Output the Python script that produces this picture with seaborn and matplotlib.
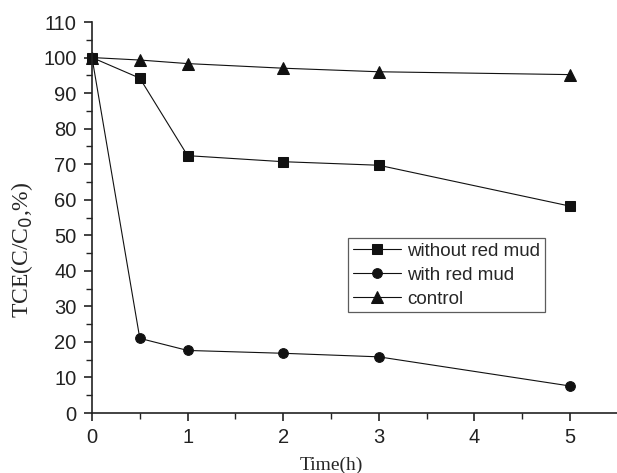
import numpy as np
import pandas as pd
import matplotlib
matplotlib.use("Agg")
import matplotlib.pyplot as plt
import seaborn as sns
from matplotlib.ticker import MultipleLocator

time_h = [0, 0.5, 1, 2, 3, 5]
without_red_mud = [100, 94.2, 72.4, 70.7, 69.7, 58.2]
with_red_mud = [100, 21.0, 17.6, 16.8, 15.8, 7.6]
control = [100, 99.3, 98.3, 97.0, 96.0, 95.2]
series_names = ["without red mud", "with red mud", "control"]

df = pd.DataFrame({
    "Time": time_h * 3,
    "TCE": without_red_mud + with_red_mud + control,
    "series": sum([[n] * len(time_h) for n in series_names], []),
})

sns.set_style("ticks")
plt.rcParams["font.family"] = ["Liberation Sans", "DejaVu Sans"]

fig = plt.figure(figsize=(6.17, 4.73), dpi=100)
ax = fig.add_axes([92 / 617, 60 / 473, 525 / 617, (413 - 22) / 473])

sns.lineplot(
    data=df, x="Time", y="TCE", hue="series", style="series",
    hue_order=series_names, style_order=series_names,
    palette=["#111111"] * 3, markers={"without red mud": "s", "with red mud": "o", "control": "^"},
    dashes=False, linewidth=0.8, markersize=7, markeredgecolor="#111111",
    ax=ax, legend=True,
)
for line in ax.lines:
    line.set_clip_on(False)
    if line.get_marker() == "s":
        line.set_markersize(6.5)
    elif line.get_marker() == "^":
        line.set_markersize(8)

ax.set_xlim(0, 525 / 95.6)
ax.set_ylim(0, 110)
ax.xaxis.set_major_locator(MultipleLocator(1))
ax.xaxis.set_minor_locator(MultipleLocator(0.5))
ax.yaxis.set_major_locator(MultipleLocator(10))
ax.yaxis.set_minor_locator(MultipleLocator(5))
ax.tick_params(which="major", direction="out", length=6, width=1.2, labelsize=14.5, colors="#222222", pad=5)
ax.tick_params(which="minor", direction="out", length=4, width=1.0, colors="#222222")
for s in ["top", "right"]:
    ax.spines[s].set_visible(False)
for s in ["left", "bottom"]:
    ax.spines[s].set_linewidth(1.2)
    ax.spines[s].set_color("#222222")

ax.set_xlabel("Time(h)", family="Liberation Serif", fontsize=14)
ax.set_ylabel("TCE(C/C$_0$,%)", family="Liberation Serif", fontsize=17)
ax.xaxis.set_label_coords((331 - 92) / 525, -(465 - 413) / 391)
ax.xaxis.label.set_va("center")
ax.yaxis.set_label_coords((22 - 92) / 525, (413 - 250) / 391)
ax.yaxis.label.set_va("center")

handles, labels = ax.get_legend_handles_labels()
if ax.get_legend() is not None:
    ax.get_legend().remove()
leg = fig.legend(handles, labels, loc="upper left", bbox_to_anchor=(348 / 617, 1 - 238 / 473),
                 bbox_transform=fig.transFigure, fontsize=13.5, frameon=True, fancybox=False,
                 handlelength=2.6, handletextpad=0.3, labelspacing=0.36, borderpad=0.25,
                 borderaxespad=0)
leg.get_frame().set_edgecolor("#333333")
leg.get_frame().set_linewidth(0.9)

fig.savefig("out.png", dpi=100)
